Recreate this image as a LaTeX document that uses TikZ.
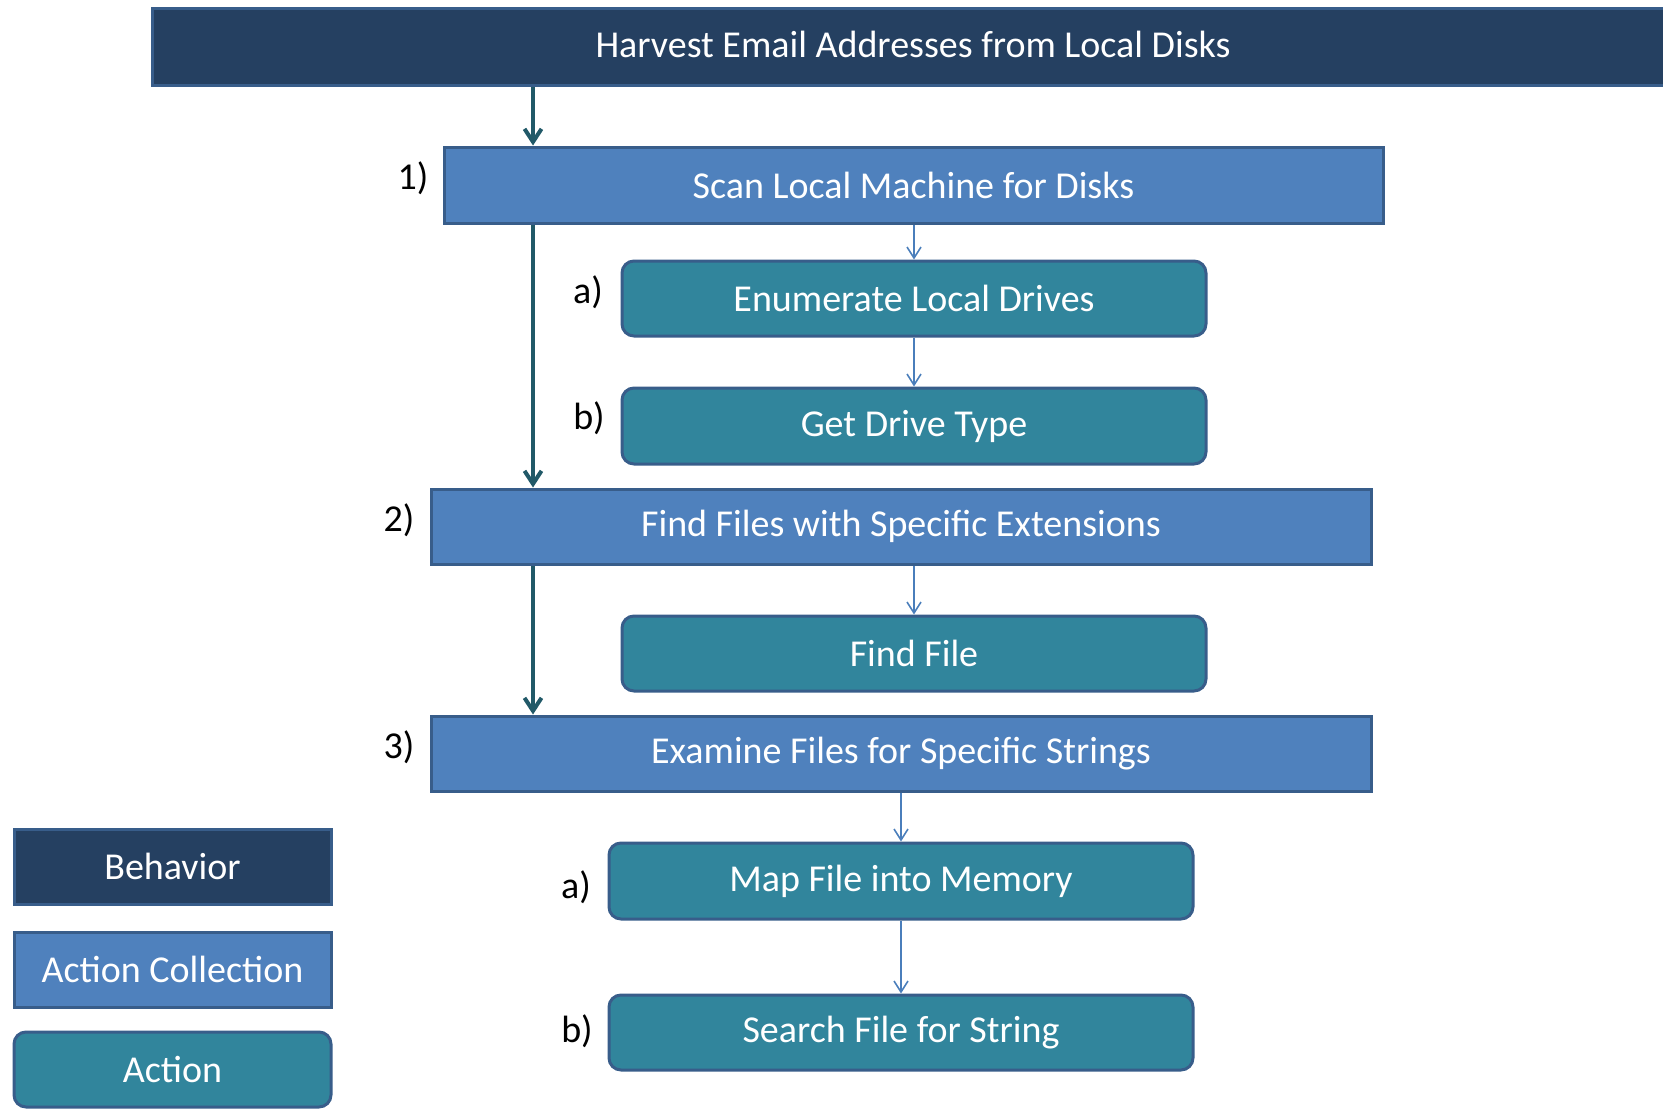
\documentclass[tikz,border=0pt]{standalone}
\usepackage{fontspec}
\setmainfont{Carlito}
\usetikzlibrary{arrows.meta}

\definecolor{behaviorfill}{HTML}{254061}
\definecolor{collfill}{HTML}{4F81BD}
\definecolor{actfill}{HTML}{31859C}
\definecolor{boxedge}{HTML}{385D8A}
\definecolor{trunkline}{HTML}{215968}
\definecolor{thinline}{HTML}{4A7EBB}

\begin{document}
\begin{tikzpicture}[x=1pt,y=-1pt,
  box/.style={draw=boxedge, line width=3pt, anchor=north west, inner sep=0pt,
    text=white, font=\fontsize{38}{44}\selectfont},
  behavior/.style={box, fill=behaviorfill},
  collection/.style={box, fill=collfill},
  action/.style={box, fill=actfill, rounded corners=12pt},
  step label/.style={font=\fontsize{38}{44}\selectfont, text=black},
  main flow/.style={draw=trunkline, line width=4.5pt,
    -{Straight Barb[length=13pt,width=17pt,line width=4pt]}},
  sub flow/.style={draw=thinline, line width=1.6pt,
    -{Straight Barb[length=11pt,width=14pt,line width=1.6pt]}},
]
\useasboundingbox (0,0) rectangle (1663,1112);
\clip (0,0) rectangle (1663,1112);

% behaviour (runs off the right edge)
\node[behavior, minimum width=1560pt, minimum height=77pt] (top) at (151,6.5) {};
\node[text=white, font=\fontsize{38}{44}\selectfont] (toptext) at (913,44) {Harvest Email Addresses from Local Disks};

% action collections
\node[collection, minimum width=939pt, minimum height=76pt] (s1) at (442.5,145.5) {Scan Local Machine for Disks};
\node[collection, minimum width=940pt, minimum height=75pt] (s2) at (429.5,487.5) {Find Files with Specific Extensions};
\node[collection, minimum width=940pt, minimum height=75pt] (s3) at (429.5,714.5) {Examine Files for Specific Strings};

% actions
\node[action, minimum width=584pt, minimum height=75pt] (a1) at (620.5,259.5) {Enumerate Local Drives};
\node[action, minimum width=584pt, minimum height=76pt] (a2) at (620.5,386.5) {Get Drive Type};
\node[action, minimum width=584pt, minimum height=75pt] (ff) at (620.5,614.5) {Find File};
\node[action, minimum width=584pt, minimum height=76pt] (m1) at (607.5,841.5) {Map File into Memory};
\node[action, minimum width=584pt, minimum height=75pt] (m2) at (607.5,993.5) {Search File for String};

% step labels
\node[step label] (l1) at (413,178) {1)};
\node[step label] (la1) at (588,292) {a)};
\node[step label] (lb1) at (589,418) {b)};
\node[step label] (l2) at (399,520) {2)};
\node[step label] (l3) at (399,747) {3)};
\node[step label] (la3) at (576,887) {a)};
\node[step label] (lb3) at (577,1031) {b)};

% legend
\node[behavior, minimum width=317pt, minimum height=75pt] (kb) at (12.5,827.5) {Behavior};
\node[collection, minimum width=317pt, minimum height=75pt] (kc) at (12.5,930.5) {Action Collection};
\node[action, minimum width=317pt, minimum height=75pt] (ka) at (12.5,1030.5) {Action};

% main sequence of action collections
\coordinate (trunk) at (533,0);
\draw[main flow] (top.south -| trunk) -- (s1.north -| trunk);
\draw[main flow] (s1.south -| trunk) -- (s2.north -| trunk);
\draw[main flow] (s2.south -| trunk) -- (s3.north -| trunk);

% actions within each collection
\draw[sub flow] (s1.south -| a1.north) -- (a1.north);
\draw[sub flow] (a1.south) -- (a2.north);
\draw[sub flow] (s2.south -| ff.north) -- (ff.north);
\draw[sub flow] (s3.south -| m1.north) -- (m1.north);
\draw[sub flow] (m1.south) -- (m2.north);
\end{tikzpicture}
\end{document}
